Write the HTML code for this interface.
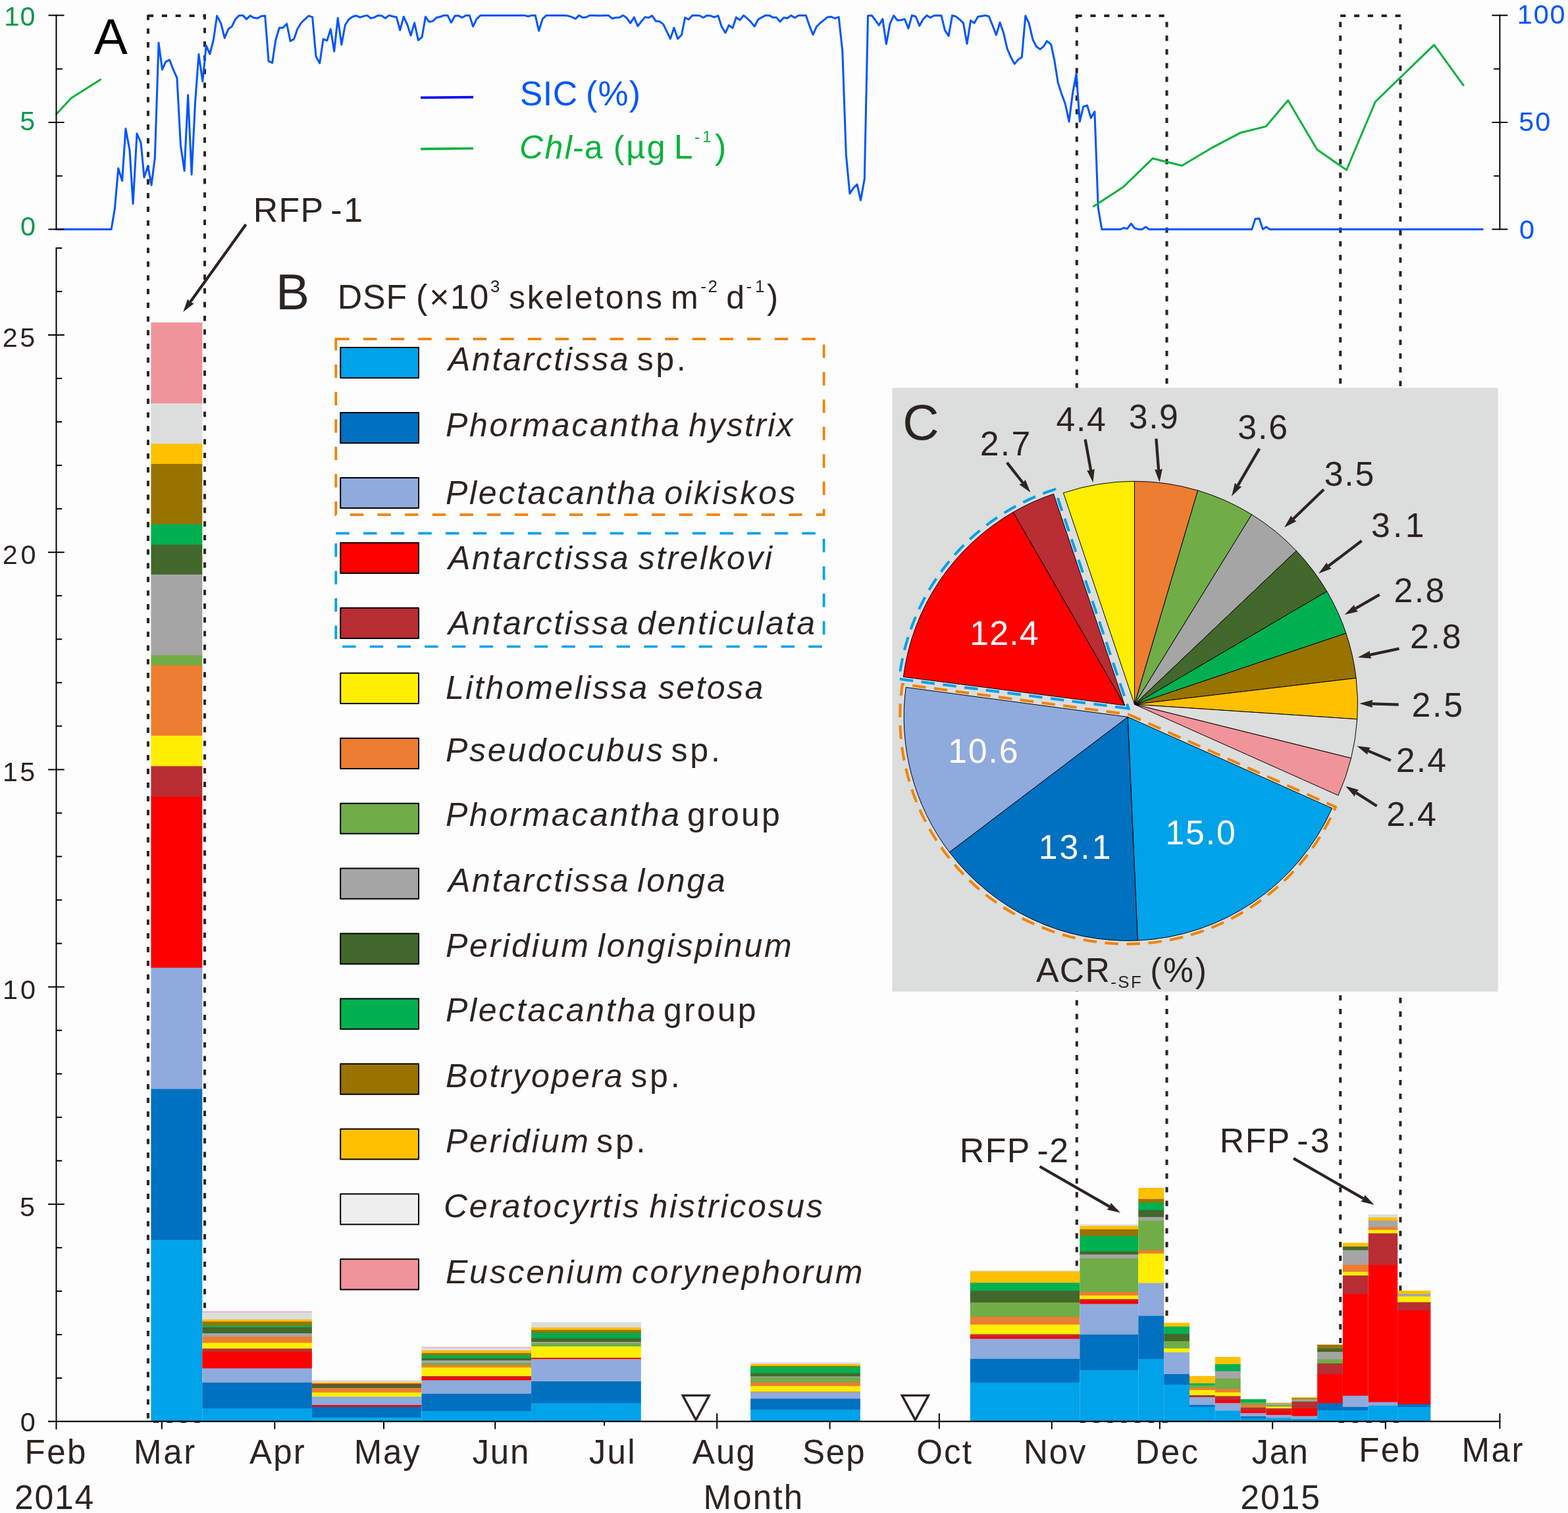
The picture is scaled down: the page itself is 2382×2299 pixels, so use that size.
<!DOCTYPE html>
<html><head><meta charset="utf-8"><title>Figure</title>
<style>html,body{margin:0;padding:0;background:#fdfdfd}svg{display:block}text{font-family:"Liberation Sans",sans-serif;white-space:pre}</style>
</head><body>
<svg xmlns="http://www.w3.org/2000/svg" width="2382" height="2299" viewBox="0 0 2382 2299">
<rect width="2382" height="2299" fill="#fdfdfd"/>
<line x1="224.95" y1="22.4" x2="224.95" y2="2158" stroke="#2c2421" stroke-width="4" stroke-dasharray="8.1 12.73" stroke-dashoffset="0"/>
<line x1="311" y1="21.4" x2="311" y2="2158" stroke="#2c2421" stroke-width="4" stroke-dasharray="8.1 12.73" stroke-dashoffset="0"/>
<line x1="225" y1="23.95" x2="313" y2="23.95" stroke="#2c2421" stroke-width="4" stroke-dasharray="8.1 12.73" stroke-dashoffset="0"/>
<line x1="232.9" y1="2160" x2="313" y2="2160" stroke="#2c2421" stroke-width="4" stroke-dasharray="8.1 12.73" stroke-dashoffset="0"/>
<line x1="1635.8" y1="22.1" x2="1635.8" y2="2158" stroke="#2c2421" stroke-width="4" stroke-dasharray="8.1 12.73" stroke-dashoffset="2.15"/>
<line x1="1772.5" y1="33.2" x2="1772.5" y2="2158" stroke="#2c2421" stroke-width="4" stroke-dasharray="8.1 12.73" stroke-dashoffset="0"/>
<line x1="1635.6" y1="24.1" x2="1771" y2="24.1" stroke="#2c2421" stroke-width="4" stroke-dasharray="8.1 12.73" stroke-dashoffset="0"/>
<line x1="1640.8" y1="2160" x2="1774.5" y2="2160" stroke="#2c2421" stroke-width="4" stroke-dasharray="8.1 12.73" stroke-dashoffset="0"/>
<line x1="2036.2" y1="33.2" x2="2036.2" y2="2158" stroke="#2c2421" stroke-width="4" stroke-dasharray="8.1 12.73" stroke-dashoffset="0"/>
<line x1="2127.4" y1="37.1" x2="2127.4" y2="2158" stroke="#2c2421" stroke-width="4" stroke-dasharray="8.1 12.73" stroke-dashoffset="0"/>
<line x1="2036.2" y1="24" x2="2129.5" y2="24" stroke="#2c2421" stroke-width="4" stroke-dasharray="8.1 12.73" stroke-dashoffset="0"/>
<line x1="2033.9" y1="2160" x2="2129.4" y2="2160" stroke="#2c2421" stroke-width="4" stroke-dasharray="8.1 12.73" stroke-dashoffset="0"/>
<rect x="229.4" y="490" width="77.9" height="123.7" fill="#f0949a"/>
<rect x="229.4" y="613" width="77.9" height="62" fill="#dcdddd"/>
<rect x="229.4" y="674.3" width="77.9" height="31.4" fill="#ffc000"/>
<rect x="229.4" y="705" width="77.9" height="92.3" fill="#997300"/>
<rect x="229.4" y="796.6" width="77.9" height="31.7" fill="#00b050"/>
<rect x="229.4" y="827.6" width="77.9" height="46" fill="#43682b"/>
<rect x="229.4" y="872.9" width="77.9" height="123.4" fill="#a5a5a5"/>
<rect x="229.4" y="995.6" width="77.9" height="16" fill="#70ad47"/>
<rect x="229.4" y="1010.9" width="77.9" height="107.7" fill="#ed7d31"/>
<rect x="229.4" y="1117.9" width="77.9" height="47" fill="#ffee00"/>
<rect x="229.4" y="1164.2" width="77.9" height="46.9" fill="#b92d34"/>
<rect x="229.4" y="1210.4" width="77.9" height="260.8" fill="#fe0000"/>
<rect x="229.4" y="1470.5" width="77.9" height="184.9" fill="#8faadc"/>
<rect x="229.4" y="1654.7" width="77.9" height="230.1" fill="#0070c0"/>
<rect x="229.4" y="1884.1" width="77.9" height="275.9" fill="#00a2e9"/>
<rect x="307.3" y="1992.7" width="166.6" height="1.9" fill="#f0949a"/>
<rect x="307.3" y="1993.9" width="166.6" height="11.7" fill="#dcdddd"/>
<rect x="307.3" y="2004.9" width="166.6" height="4" fill="#ffc000"/>
<rect x="307.3" y="2008.2" width="166.6" height="6.8" fill="#997300"/>
<rect x="307.3" y="2014.3" width="166.6" height="3.3" fill="#00b050"/>
<rect x="307.3" y="2016.9" width="166.6" height="9.7" fill="#43682b"/>
<rect x="307.3" y="2025.9" width="166.6" height="5.8" fill="#a5a5a5"/>
<rect x="307.3" y="2031" width="166.6" height="10.1" fill="#ed7d31"/>
<rect x="307.3" y="2040.4" width="166.6" height="9.5" fill="#ffee00"/>
<rect x="307.3" y="2049.2" width="166.6" height="6" fill="#b92d34"/>
<rect x="307.3" y="2054.5" width="166.6" height="25.4" fill="#fe0000"/>
<rect x="307.3" y="2079.2" width="166.6" height="22.3" fill="#8faadc"/>
<rect x="307.3" y="2100.8" width="166.6" height="39.9" fill="#0070c0"/>
<rect x="307.3" y="2140" width="166.6" height="20" fill="#00a2e9"/>
<rect x="473.9" y="2097.1" width="166.5" height="4" fill="#dcdddd"/>
<rect x="473.9" y="2100.4" width="166.5" height="2.7" fill="#ffc000"/>
<rect x="473.9" y="2102.4" width="166.5" height="2.6" fill="#b92d34"/>
<rect x="473.9" y="2104.3" width="166.5" height="5.4" fill="#43682b"/>
<rect x="473.9" y="2109" width="166.5" height="7.6" fill="#ed7d31"/>
<rect x="473.9" y="2115.9" width="166.5" height="7" fill="#ffee00"/>
<rect x="473.9" y="2122.2" width="166.5" height="13.4" fill="#8faadc"/>
<rect x="473.9" y="2134.9" width="166.5" height="3.4" fill="#fe0000"/>
<rect x="473.9" y="2137.6" width="166.5" height="17" fill="#0070c0"/>
<rect x="473.9" y="2153.9" width="166.5" height="6.1" fill="#00adef"/>
<rect x="640.4" y="2046.7" width="166.7" height="1.6" fill="#f0949a"/>
<rect x="640.4" y="2047.6" width="166.7" height="5.1" fill="#dcdddd"/>
<rect x="640.4" y="2052" width="166.7" height="4.6" fill="#ffc000"/>
<rect x="640.4" y="2055.9" width="166.7" height="4" fill="#997300"/>
<rect x="640.4" y="2059.2" width="166.7" height="5.2" fill="#00b050"/>
<rect x="640.4" y="2063.7" width="166.7" height="4.1" fill="#43682b"/>
<rect x="640.4" y="2067.1" width="166.7" height="4.4" fill="#a5a5a5"/>
<rect x="640.4" y="2070.8" width="166.7" height="3.8" fill="#70ad47"/>
<rect x="640.4" y="2073.9" width="166.7" height="4.6" fill="#ed7d31"/>
<rect x="640.4" y="2077.8" width="166.7" height="13.9" fill="#ffee00"/>
<rect x="640.4" y="2091" width="166.7" height="2.8" fill="#b92d34"/>
<rect x="640.4" y="2093.1" width="166.7" height="4.9" fill="#fe0000"/>
<rect x="640.4" y="2097.3" width="166.7" height="21.2" fill="#8faadc"/>
<rect x="640.4" y="2117.8" width="166.7" height="27" fill="#0070c0"/>
<rect x="640.4" y="2144.1" width="166.7" height="15.9" fill="#00a2e9"/>
<rect x="807.1" y="2009" width="166.7" height="8.8" fill="#dcdddd"/>
<rect x="807.1" y="2017.1" width="166.7" height="4.4" fill="#ffc000"/>
<rect x="807.1" y="2020.8" width="166.7" height="5.2" fill="#997300"/>
<rect x="807.1" y="2025.3" width="166.7" height="8.5" fill="#00b050"/>
<rect x="807.1" y="2033.1" width="166.7" height="6.6" fill="#43682b"/>
<rect x="807.1" y="2039" width="166.7" height="2.7" fill="#a5a5a5"/>
<rect x="807.1" y="2041" width="166.7" height="5.6" fill="#70ad47"/>
<rect x="807.1" y="2045.9" width="166.7" height="17.9" fill="#ffee00"/>
<rect x="807.1" y="2063.1" width="166.7" height="2.7" fill="#fe0000"/>
<rect x="807.1" y="2065.1" width="166.7" height="34.6" fill="#8faadc"/>
<rect x="807.1" y="2099" width="166.7" height="33.7" fill="#0070c0"/>
<rect x="807.1" y="2132" width="166.7" height="28" fill="#00a2e9"/>
<rect x="1140.1" y="2070.2" width="166.8" height="3.2" fill="#dcdddd"/>
<rect x="1140.1" y="2072.7" width="166.8" height="3.6" fill="#ffc000"/>
<rect x="1140.1" y="2075.6" width="166.8" height="2.2" fill="#997300"/>
<rect x="1140.1" y="2077.1" width="166.8" height="10.2" fill="#00b050"/>
<rect x="1140.1" y="2086.6" width="166.8" height="5.6" fill="#43682b"/>
<rect x="1140.1" y="2091.5" width="166.8" height="2.2" fill="#a5a5a5"/>
<rect x="1140.1" y="2093" width="166.8" height="8.5" fill="#70ad47"/>
<rect x="1140.1" y="2100.8" width="166.8" height="6.1" fill="#ed7d31"/>
<rect x="1140.1" y="2106.2" width="166.8" height="9" fill="#ffee00"/>
<rect x="1140.1" y="2114.5" width="166.8" height="1.7" fill="#ed7d31"/>
<rect x="1140.1" y="2115.5" width="166.8" height="10.5" fill="#8faadc"/>
<rect x="1140.1" y="2125.3" width="166.8" height="17.1" fill="#0070c0"/>
<rect x="1140.1" y="2141.7" width="166.8" height="18.3" fill="#00a2e9"/>
<rect x="1473.8" y="1930.5" width="166.5" height="2" fill="#dcdddd"/>
<rect x="1473.8" y="1931.8" width="166.5" height="18" fill="#ffc000"/>
<rect x="1473.8" y="1949.1" width="166.5" height="13" fill="#00b050"/>
<rect x="1473.8" y="1961.4" width="166.5" height="18.5" fill="#43682b"/>
<rect x="1473.8" y="1979.2" width="166.5" height="22.6" fill="#70ad47"/>
<rect x="1473.8" y="2001.1" width="166.5" height="12.2" fill="#ed7d31"/>
<rect x="1473.8" y="2012.6" width="166.5" height="15.5" fill="#ffee00"/>
<rect x="1473.8" y="2027.4" width="166.5" height="4.3" fill="#b92d34"/>
<rect x="1473.8" y="2031" width="166.5" height="4" fill="#fe0000"/>
<rect x="1473.8" y="2034.3" width="166.5" height="31.2" fill="#8faadc"/>
<rect x="1473.8" y="2064.8" width="166.5" height="36.6" fill="#0070c0"/>
<rect x="1473.8" y="2100.7" width="166.5" height="59.3" fill="#00a2e9"/>
<rect x="1640.3" y="1860.3" width="89" height="3.3" fill="#dcdddd"/>
<rect x="1640.3" y="1862.9" width="89" height="5.7" fill="#ffc000"/>
<rect x="1640.3" y="1867.9" width="89" height="10.7" fill="#997300"/>
<rect x="1640.3" y="1877.9" width="89" height="24.4" fill="#00b050"/>
<rect x="1640.3" y="1901.6" width="89" height="5.3" fill="#43682b"/>
<rect x="1640.3" y="1906.2" width="89" height="6.4" fill="#a5a5a5"/>
<rect x="1640.3" y="1911.9" width="89" height="51.9" fill="#70ad47"/>
<rect x="1640.3" y="1963.1" width="89" height="6.2" fill="#ed7d31"/>
<rect x="1640.3" y="1968.6" width="89" height="6" fill="#ffee00"/>
<rect x="1640.3" y="1973.9" width="89" height="3.4" fill="#b92d34"/>
<rect x="1640.3" y="1976.6" width="89" height="5.4" fill="#fe0000"/>
<rect x="1640.3" y="1981.3" width="89" height="47.2" fill="#8faadc"/>
<rect x="1640.3" y="2027.8" width="89" height="54.8" fill="#0070c0"/>
<rect x="1640.3" y="2081.9" width="89" height="78.1" fill="#00a2e9"/>
<rect x="1729.3" y="1804.9" width="38.9" height="17.7" fill="#ffc000"/>
<rect x="1729.3" y="1821.9" width="38.9" height="6.2" fill="#997300"/>
<rect x="1729.3" y="1827.4" width="38.9" height="11.9" fill="#00b050"/>
<rect x="1729.3" y="1838.6" width="38.9" height="11.4" fill="#43682b"/>
<rect x="1729.3" y="1849.3" width="38.9" height="6.2" fill="#a5a5a5"/>
<rect x="1729.3" y="1854.8" width="38.9" height="45.4" fill="#70ad47"/>
<rect x="1729.3" y="1899.5" width="38.9" height="5.9" fill="#ed7d31"/>
<rect x="1729.3" y="1904.7" width="38.9" height="45.6" fill="#ffee00"/>
<rect x="1729.3" y="1949.6" width="38.9" height="50.6" fill="#8faadc"/>
<rect x="1729.3" y="1999.5" width="38.9" height="66.2" fill="#0070c0"/>
<rect x="1729.3" y="2065" width="38.9" height="95" fill="#00a2e9"/>
<rect x="1768.2" y="2010" width="38.8" height="6.4" fill="#ffc000"/>
<rect x="1768.2" y="2015.7" width="38.8" height="11.9" fill="#00b050"/>
<rect x="1768.2" y="2026.9" width="38.8" height="11.7" fill="#43682b"/>
<rect x="1768.2" y="2037.9" width="38.8" height="11.7" fill="#70ad47"/>
<rect x="1768.2" y="2048.9" width="38.8" height="6.6" fill="#ffee00"/>
<rect x="1768.2" y="2054.8" width="38.8" height="33.9" fill="#8faadc"/>
<rect x="1768.2" y="2088" width="38.8" height="16.6" fill="#0070c0"/>
<rect x="1768.2" y="2103.9" width="38.8" height="56.1" fill="#00a2e9"/>
<rect x="1807" y="2090.8" width="38.8" height="11.9" fill="#ffc000"/>
<rect x="1807" y="2102" width="38.8" height="3.9" fill="#00b050"/>
<rect x="1807" y="2105.2" width="38.8" height="4.3" fill="#70ad47"/>
<rect x="1807" y="2108.8" width="38.8" height="4.2" fill="#ed7d31"/>
<rect x="1807" y="2112.3" width="38.8" height="8.4" fill="#ffee00"/>
<rect x="1807" y="2120" width="38.8" height="3.8" fill="#b92d34"/>
<rect x="1807" y="2123.1" width="38.8" height="12.4" fill="#8faadc"/>
<rect x="1807" y="2134.8" width="38.8" height="3.6" fill="#0070c0"/>
<rect x="1807" y="2137.7" width="38.8" height="22.3" fill="#00a2e9"/>
<rect x="1845.8" y="2061.8" width="38.8" height="11.7" fill="#ffc000"/>
<rect x="1845.8" y="2072.8" width="38.8" height="11.3" fill="#00b050"/>
<rect x="1845.8" y="2083.4" width="38.8" height="11.9" fill="#a5a5a5"/>
<rect x="1845.8" y="2094.6" width="38.8" height="16.5" fill="#70ad47"/>
<rect x="1845.8" y="2110.4" width="38.8" height="6" fill="#ed7d31"/>
<rect x="1845.8" y="2115.7" width="38.8" height="6.4" fill="#ffee00"/>
<rect x="1845.8" y="2121.4" width="38.8" height="6" fill="#b92d34"/>
<rect x="1845.8" y="2126.7" width="38.8" height="6" fill="#fe0000"/>
<rect x="1845.8" y="2132" width="38.8" height="12.3" fill="#8faadc"/>
<rect x="1845.8" y="2143.6" width="38.8" height="16.4" fill="#00a2e9"/>
<rect x="1884.6" y="2126.1" width="38.9" height="5.6" fill="#00b050"/>
<rect x="1884.6" y="2131" width="38.9" height="4.5" fill="#70ad47"/>
<rect x="1884.6" y="2134.8" width="38.9" height="4.7" fill="#ed7d31"/>
<rect x="1884.6" y="2138.8" width="38.9" height="5.1" fill="#b92d34"/>
<rect x="1884.6" y="2143.2" width="38.9" height="4.7" fill="#fe0000"/>
<rect x="1884.6" y="2147.2" width="38.9" height="5.6" fill="#8faadc"/>
<rect x="1884.6" y="2152.1" width="38.9" height="3.9" fill="#0070c0"/>
<rect x="1884.6" y="2155.3" width="38.9" height="4.7" fill="#00a2e9"/>
<rect x="1923.5" y="2131.2" width="38.8" height="1.7" fill="#ffc000"/>
<rect x="1923.5" y="2132.2" width="38.8" height="3.7" fill="#a5a5a5"/>
<rect x="1923.5" y="2135.2" width="38.8" height="2.8" fill="#70ad47"/>
<rect x="1923.5" y="2137.3" width="38.8" height="3.4" fill="#ffee00"/>
<rect x="1923.5" y="2140" width="38.8" height="3.9" fill="#b92d34"/>
<rect x="1923.5" y="2143.2" width="38.8" height="7.5" fill="#fe0000"/>
<rect x="1923.5" y="2150" width="38.8" height="5.3" fill="#8faadc"/>
<rect x="1923.5" y="2154.6" width="38.8" height="5.4" fill="#00a2e9"/>
<rect x="1962.3" y="2123.1" width="38.8" height="2.2" fill="#ffc000"/>
<rect x="1962.3" y="2124.6" width="38.8" height="2.2" fill="#997300"/>
<rect x="1962.3" y="2126.1" width="38.8" height="3.4" fill="#a5a5a5"/>
<rect x="1962.3" y="2128.8" width="38.8" height="1.8" fill="#70ad47"/>
<rect x="1962.3" y="2129.9" width="38.8" height="10.8" fill="#b92d34"/>
<rect x="1962.3" y="2140" width="38.8" height="12.4" fill="#fe0000"/>
<rect x="1962.3" y="2151.7" width="38.8" height="4.9" fill="#8faadc"/>
<rect x="1962.3" y="2155.9" width="38.8" height="4.1" fill="#00a2e9"/>
<rect x="2001.1" y="2043.2" width="38.8" height="6.6" fill="#997300"/>
<rect x="2001.1" y="2049.1" width="38.8" height="5.8" fill="#43682b"/>
<rect x="2001.1" y="2054.2" width="38.8" height="11.9" fill="#a5a5a5"/>
<rect x="2001.1" y="2065.4" width="38.8" height="7.1" fill="#70ad47"/>
<rect x="2001.1" y="2071.8" width="38.8" height="16.9" fill="#b92d34"/>
<rect x="2001.1" y="2088" width="38.8" height="44.9" fill="#fe0000"/>
<rect x="2001.1" y="2132.2" width="38.8" height="11.5" fill="#0070c0"/>
<rect x="2001.1" y="2143" width="38.8" height="17" fill="#00a2e9"/>
<rect x="2039.9" y="1888.5" width="38.8" height="6.4" fill="#ffc000"/>
<rect x="2039.9" y="1894.2" width="38.8" height="6" fill="#43682b"/>
<rect x="2039.9" y="1899.5" width="38.8" height="22.8" fill="#a5a5a5"/>
<rect x="2039.9" y="1921.6" width="38.8" height="11.7" fill="#ed7d31"/>
<rect x="2039.9" y="1932.6" width="38.8" height="6.2" fill="#ffee00"/>
<rect x="2039.9" y="1938.1" width="38.8" height="28.9" fill="#b92d34"/>
<rect x="2039.9" y="1966.3" width="38.8" height="155.2" fill="#fe0000"/>
<rect x="2039.9" y="2120.8" width="38.8" height="17.8" fill="#8faadc"/>
<rect x="2039.9" y="2137.9" width="38.8" height="5.8" fill="#0070c0"/>
<rect x="2039.9" y="2143" width="38.8" height="17" fill="#00a2e9"/>
<rect x="2078.7" y="1845.1" width="44.5" height="5.4" fill="#dcdddd"/>
<rect x="2078.7" y="1849.8" width="44.5" height="5.5" fill="#ffc000"/>
<rect x="2078.7" y="1854.6" width="44.5" height="10.7" fill="#a5a5a5"/>
<rect x="2078.7" y="1864.6" width="44.5" height="4.9" fill="#ed7d31"/>
<rect x="2078.7" y="1868.8" width="44.5" height="6" fill="#ffee00"/>
<rect x="2078.7" y="1874.1" width="44.5" height="48.7" fill="#b92d34"/>
<rect x="2078.7" y="1922.1" width="44.5" height="209.1" fill="#fe0000"/>
<rect x="2078.7" y="2130.5" width="44.5" height="6" fill="#8faadc"/>
<rect x="2078.7" y="2135.8" width="44.5" height="24.2" fill="#00a2e9"/>
<rect x="2123.2" y="1961.2" width="50.1" height="5.5" fill="#ffc000"/>
<rect x="2123.2" y="1966" width="50.1" height="4.6" fill="#a5a5a5"/>
<rect x="2123.2" y="1969.9" width="50.1" height="9.5" fill="#ffee00"/>
<rect x="2123.2" y="1978.7" width="50.1" height="13.4" fill="#b92d34"/>
<rect x="2123.2" y="1991.4" width="50.1" height="143" fill="#fe0000"/>
<rect x="2123.2" y="2133.7" width="50.1" height="4.9" fill="#0070c0"/>
<rect x="2123.2" y="2137.9" width="50.1" height="22.1" fill="#00a2e9"/>
<line x1="73" y1="2159.8" x2="2279.4" y2="2159.8" stroke="#000000" stroke-width="2.2"/>
<path d="M1037.1 2120.4L1077.3 2120.4L1057.2 2157.6Z" fill="none" stroke="#2c2421" stroke-width="3.4" stroke-linejoin="miter"/>
<path d="M1370.3 2120.4L1410.5 2120.4L1390.4 2157.6Z" fill="none" stroke="#2c2421" stroke-width="3.4" stroke-linejoin="miter"/>
<rect x="1355.4" y="589.3" width="920.2" height="917.4" fill="#dcdddd"/>
<path d="M85.6 348.4L169.1 348.4L174.4 317.1L179.7 255.8L185.6 274.8L190.9 195.6L197 228.3L202.1 309.7L208 203L214 216.7L219 269.6L224.7 252L230 281.2L235.3 240L241 65.1L246.5 105.7L251.6 94.1L257.5 90.9L263.2 105.7L268.9 118.4L274.4 220.9L280.1 259.6L285.6 144.4L291.1 265.3L296.6 154.3L301.9 82.5L307.8 123.7L313.2 69.3L318.8 82.1L324.3 60.7L329.6 24.1L335.7 35.7L341.2 57.7L346.8 44.3L352.3 40.2L357.5 29.5L363.2 23.6L369.1 23.4L374.5 29.1L380 23.8L385.7 27.1L391.2 27.7L396.8 24.5L402.7 24.1L408 92.9L413.6 95.5L418.8 60.7L424.3 42.3L429.8 42.3L435.7 36.2L441.1 62.5L446.6 59.3L452 43.8L457.7 34.5L463.4 29.1L468.9 24.1L474.6 25.9L480 85.7L485.7 95.9L491.1 59.5L496.8 61.6L502.3 44.3L507.7 78L513.2 27.3L518.8 67.9L524.3 38L529.8 29.5L535.4 25.5L541.1 23.8L547 26.4L552.3 24.6L557.7 23.4L563.2 27.7L568.8 26.4L574.5 23.4L580 24.1L585.4 27.7L591.1 23.4L596.8 25L602.3 25.9L607.7 45.9L613.2 25.5L618.8 37.5L624.1 53.9L629.6 34.8L635.4 61.1L641.1 56.3L646.4 25.5L652 33.4L657.5 32.1L663 26.8L668.8 25.5L674.3 23.4L680 23.4L685.4 34.3L691.1 24.1L696.6 23.8L702.3 26.8L707.9 23.4L713.2 23.4L718.6 40.2L724.3 28.6L730 23.4L797 23.4L802.3 25L807.7 23.4L813.2 23.4L818.6 46.8L824.3 28.6L830 23.4L857.7 23.4L863 24.1L868.8 25.9L874.3 28.6L879.6 23.4L885.4 26.8L890.9 25.9L896.4 23.4L902 23.4L907.7 23.8L913.2 23.8L918.8 23.4L924.3 23.4L930 28.2L935.5 26.8L941.1 26.4L946.6 23.4L952.1 27.3L957.7 35.2L963.2 26.2L968.8 39.6L974.3 32.7L980 25.9L985.4 27.1L990.7 23.8L996.4 32.1L1002 32.7L1007.5 36.6L1013 47.9L1018.4 58.9L1023.9 42.3L1029.6 58.9L1035.4 53.2L1040.7 26.8L1046.2 29.5L1051.8 23.4L1057.3 23.4L1062.9 23.8L1068.4 26.8L1074.3 23.4L1079.6 24.1L1085 26.2L1090.9 23.8L1096.2 40.2L1102 50L1107.3 38.4L1112.9 42.5L1118.4 26.4L1124.1 30.4L1129.6 23.4L1135.4 28.2L1140.7 33.4L1146.2 40.2L1151.8 29.5L1157.3 26.4L1163 23.4L1168.4 23.4L1173.9 26.4L1179.5 26.4L1185 33L1190.7 26.8L1196.2 27.7L1201.8 23.4L1207.3 27.1L1212.9 23.4L1218.4 23.6L1224.3 23.4L1229.6 38.9L1235 52.7L1240.7 40.2L1246.2 34.8L1251.8 30.4L1257.3 25.9L1263 25.5L1268.6 28L1274.2 25.9L1279.8 77.7L1285.3 234.9L1290.9 294.1L1296.4 285.8L1302 280.2L1307.5 304.3L1313.3 271.9L1318.5 24L1324.2 23.4L1329.7 30.5L1335.3 38.3L1340.8 28.7L1346.4 67.1L1351.9 36.4L1357.7 23.7L1363.2 30.9L1368.8 30.5L1374.3 29L1379.9 43.1L1385.4 23.4L1391.2 25.3L1396.7 39.2L1402.2 29.6L1407.8 23.4L1413.3 26.8L1418.9 23.7L1424.4 23.4L1430 23.7L1435.5 46.2L1441.1 54.6L1446.6 23.4L1452.4 25.3L1457.9 29.6L1463.5 35.1L1469 66.6L1474.6 31.1L1480.1 35.1L1485.7 25.3L1491.2 24.4L1496.8 23.4L1502.3 25L1507.9 38.8L1513.4 53.1L1519 34.2L1524.5 49.9L1530.1 74L1535.6 86.9L1541.2 97.1L1546.7 90.6L1552.3 86.9L1557.8 24L1563.4 36.1L1568.9 60.1L1574.5 70.8L1580 74.9L1585.6 70.3L1590.5 62.3L1596.6 67.3L1601.8 91.4L1607.2 125.6L1612.7 142.8L1618.3 158L1624 184.8L1629.6 141.3L1635.1 111.4L1640.3 184.8L1645.7 162.1L1651.6 160.2L1657.3 179.3L1662.9 169.5L1668.2 315.2L1673.8 348.4L1702.1 348.4L1707.1 346.3L1712.4 347.6L1718.2 339.8L1723.7 346.7L1729.3 348.4L1735 348.4L1740.4 344.8L1745.9 348.4L1901.9 348.4L1906.9 332.4L1913 331.9L1918.3 348.4L1923.7 344.8L1928.7 348.4L2252.3 348.4" fill="none" stroke="#0055ff" stroke-width="3" stroke-linejoin="round" stroke-linecap="round"/>
<path d="M85.6 173.4L108.2 149L152.6 120.9" fill="none" stroke="#09b23b" stroke-width="3" stroke-linejoin="round" stroke-linecap="round"/>
<path d="M1661.5 313.6L1706.6 284L1751.2 240.7L1795.5 251.8L1839.1 225.7L1884.2 201.8L1923.3 192.1L1956.6 152.5L2000.8 227.3L2045.5 258.3L2089.4 154.5L2178.6 68.1L2223.1 129.6" fill="none" stroke="#09b23b" stroke-width="3" stroke-linejoin="round" stroke-linecap="round"/>
<line x1="639.1" y1="148.3" x2="719" y2="147.6" stroke="#0808f2" stroke-width="3.7"/>
<line x1="639.1" y1="226.4" x2="719" y2="225.5" stroke="#09b23b" stroke-width="3.7"/>
<line x1="85.5" y1="22.3" x2="85.5" y2="349.4" stroke="#000000" stroke-width="2"/>
<line x1="73.5" y1="23.3" x2="97.5" y2="23.3" stroke="#000000" stroke-width="2"/>
<line x1="73.5" y1="186" x2="97.5" y2="186" stroke="#000000" stroke-width="2"/>
<line x1="73.5" y1="348.4" x2="97.5" y2="348.4" stroke="#000000" stroke-width="2"/>
<line x1="85.5" y1="104.7" x2="94.8" y2="104.7" stroke="#000000" stroke-width="2"/>
<line x1="85.5" y1="267.4" x2="94.8" y2="267.4" stroke="#000000" stroke-width="2"/>
<line x1="2278.4" y1="22.3" x2="2278.4" y2="349.4" stroke="#000000" stroke-width="2"/>
<line x1="2266.4" y1="23.3" x2="2290.4" y2="23.3" stroke="#000000" stroke-width="2"/>
<line x1="2266.4" y1="186" x2="2290.4" y2="186" stroke="#000000" stroke-width="2"/>
<line x1="2266.4" y1="348.4" x2="2290.4" y2="348.4" stroke="#000000" stroke-width="2"/>
<line x1="2269.1" y1="104.7" x2="2278.4" y2="104.7" stroke="#000000" stroke-width="2"/>
<line x1="2269.1" y1="267.4" x2="2278.4" y2="267.4" stroke="#000000" stroke-width="2"/>
<line x1="85.5" y1="375.92" x2="85.5" y2="2172" stroke="#000000" stroke-width="2"/>
<line x1="85.5" y1="2093.96" x2="94.2" y2="2093.96" stroke="#000000" stroke-width="2"/>
<line x1="85.5" y1="2027.92" x2="94.2" y2="2027.92" stroke="#000000" stroke-width="2"/>
<line x1="85.5" y1="1961.88" x2="94.2" y2="1961.88" stroke="#000000" stroke-width="2"/>
<line x1="85.5" y1="1895.84" x2="94.2" y2="1895.84" stroke="#000000" stroke-width="2"/>
<line x1="73" y1="1829.8" x2="97.8" y2="1829.8" stroke="#000000" stroke-width="2"/>
<line x1="85.5" y1="1763.76" x2="94.2" y2="1763.76" stroke="#000000" stroke-width="2"/>
<line x1="85.5" y1="1697.72" x2="94.2" y2="1697.72" stroke="#000000" stroke-width="2"/>
<line x1="85.5" y1="1631.68" x2="94.2" y2="1631.68" stroke="#000000" stroke-width="2"/>
<line x1="85.5" y1="1565.64" x2="94.2" y2="1565.64" stroke="#000000" stroke-width="2"/>
<line x1="73" y1="1499.6" x2="97.8" y2="1499.6" stroke="#000000" stroke-width="2"/>
<line x1="85.5" y1="1433.56" x2="94.2" y2="1433.56" stroke="#000000" stroke-width="2"/>
<line x1="85.5" y1="1367.52" x2="94.2" y2="1367.52" stroke="#000000" stroke-width="2"/>
<line x1="85.5" y1="1301.48" x2="94.2" y2="1301.48" stroke="#000000" stroke-width="2"/>
<line x1="85.5" y1="1235.44" x2="94.2" y2="1235.44" stroke="#000000" stroke-width="2"/>
<line x1="73" y1="1169.4" x2="97.8" y2="1169.4" stroke="#000000" stroke-width="2"/>
<line x1="85.5" y1="1103.36" x2="94.2" y2="1103.36" stroke="#000000" stroke-width="2"/>
<line x1="85.5" y1="1037.32" x2="94.2" y2="1037.32" stroke="#000000" stroke-width="2"/>
<line x1="85.5" y1="971.28" x2="94.2" y2="971.28" stroke="#000000" stroke-width="2"/>
<line x1="85.5" y1="905.24" x2="94.2" y2="905.24" stroke="#000000" stroke-width="2"/>
<line x1="73" y1="839.2" x2="97.8" y2="839.2" stroke="#000000" stroke-width="2"/>
<line x1="85.5" y1="773.16" x2="94.2" y2="773.16" stroke="#000000" stroke-width="2"/>
<line x1="85.5" y1="707.12" x2="94.2" y2="707.12" stroke="#000000" stroke-width="2"/>
<line x1="85.5" y1="641.08" x2="94.2" y2="641.08" stroke="#000000" stroke-width="2"/>
<line x1="85.5" y1="575.04" x2="94.2" y2="575.04" stroke="#000000" stroke-width="2"/>
<line x1="73" y1="509" x2="97.8" y2="509" stroke="#000000" stroke-width="2"/>
<line x1="85.5" y1="442.96" x2="94.2" y2="442.96" stroke="#000000" stroke-width="2"/>
<line x1="85.5" y1="376.92" x2="94.2" y2="376.92" stroke="#000000" stroke-width="2"/>
<line x1="245.8" y1="2160" x2="245.8" y2="2171.5" stroke="#000000" stroke-width="2"/>
<line x1="417.3" y1="2160" x2="417.3" y2="2171.5" stroke="#000000" stroke-width="2"/>
<line x1="583" y1="2160" x2="583" y2="2171.5" stroke="#000000" stroke-width="2"/>
<line x1="752.2" y1="2160" x2="752.2" y2="2171.5" stroke="#000000" stroke-width="2"/>
<line x1="918" y1="2160" x2="918" y2="2166.5" stroke="#000000" stroke-width="2"/>
<line x1="1089.2" y1="2147.5" x2="1089.2" y2="2171" stroke="#000000" stroke-width="2"/>
<line x1="1260.6" y1="2160" x2="1260.6" y2="2171.5" stroke="#000000" stroke-width="2"/>
<line x1="1426.8" y1="2147.5" x2="1426.8" y2="2171" stroke="#000000" stroke-width="2"/>
<line x1="1597.8" y1="2160" x2="1597.8" y2="2171.5" stroke="#000000" stroke-width="2"/>
<line x1="1761.8" y1="2160" x2="1761.8" y2="2171.5" stroke="#000000" stroke-width="2"/>
<line x1="1933.1" y1="2160" x2="1933.1" y2="2171.5" stroke="#000000" stroke-width="2"/>
<line x1="2104.8" y1="2160" x2="2104.8" y2="2171.5" stroke="#000000" stroke-width="2"/>
<line x1="2278.4" y1="2147.5" x2="2278.4" y2="2171" stroke="#000000" stroke-width="2"/>
<path d="M1723.5 1070.3L1723.5 731.3A339.0 339.0 0 0 1 1819.66 745.22Z" fill="#ed7d31" stroke="#000" stroke-width="1" stroke-linejoin="round"/>
<path d="M1723.5 1070.3L1819.66 745.22A339.0 339.0 0 0 1 1901.59 781.84Z" fill="#70ad47" stroke="#000" stroke-width="1" stroke-linejoin="round"/>
<path d="M1723.5 1070.3L1901.59 781.84A339.0 339.0 0 0 1 1969.32 836.86Z" fill="#a5a5a5" stroke="#000" stroke-width="1" stroke-linejoin="round"/>
<path d="M1723.5 1070.3L1969.32 836.86A339.0 339.0 0 0 1 2015.82 898.64Z" fill="#43682b" stroke="#000" stroke-width="1" stroke-linejoin="round"/>
<path d="M1723.5 1070.3L2015.82 898.64A339.0 339.0 0 0 1 2044.81 962.22Z" fill="#00b050" stroke="#000" stroke-width="1" stroke-linejoin="round"/>
<path d="M1723.5 1070.3L2044.81 962.22A339.0 339.0 0 0 1 2060.14 1030.39Z" fill="#997300" stroke="#000" stroke-width="1" stroke-linejoin="round"/>
<path d="M1723.5 1070.3L2060.14 1030.39A339.0 339.0 0 0 1 2061.75 1092.78Z" fill="#ffc000" stroke="#000" stroke-width="1" stroke-linejoin="round"/>
<path d="M1723.5 1070.3L2061.75 1092.78A339.0 339.0 0 0 1 2052.51 1151.99Z" fill="#dcdddd" stroke="#000" stroke-width="1" stroke-linejoin="round"/>
<path d="M1723.5 1070.3L2052.51 1151.99A339.0 339.0 0 0 1 2032.99 1208.64Z" fill="#f0949a" stroke="#000" stroke-width="1" stroke-linejoin="round"/>
<path d="M1713.2 1089.4L2023.6 1228.15A340.0 340.0 0 0 1 1728.24 1429.07Z" fill="#00a2e9" stroke="#000" stroke-width="1" stroke-linejoin="round"/>
<path d="M1713.2 1089.4L1728.24 1429.07A340.0 340.0 0 0 1 1442.32 1294.88Z" fill="#0070c0" stroke="#000" stroke-width="1" stroke-linejoin="round"/>
<path d="M1713.2 1089.4L1442.32 1294.88A340.0 340.0 0 0 1 1376.19 1044.4Z" fill="#8faadc" stroke="#000" stroke-width="1" stroke-linejoin="round"/>
<path d="M1708.6 1071.8L1372.37 1028.52A339.0 339.0 0 0 1 1539.1 778.22Z" fill="#fe0000" stroke="#000" stroke-width="1" stroke-linejoin="round"/>
<path d="M1708.6 1071.8L1539.1 778.22A339.0 339.0 0 0 1 1600.52 750.49Z" fill="#b92d34" stroke="#000" stroke-width="1" stroke-linejoin="round"/>
<path d="M1723.5 1070.3L1615.42 748.99A339.0 339.0 0 0 1 1723.5 731.3Z" fill="#ffee00" stroke="#000" stroke-width="1" stroke-linejoin="round"/>
<path d="M1714.3 1085.51L2028.94 1226.15A345 345 0 0 1 1370.81 1039.65Z" fill="none" stroke="#f08300" stroke-width="4" stroke-dasharray="20.5 12.5"/>
<path d="M1714.43 1076.58L1365.94 1031.72A345 345 0 0 1 1602.41 743.55Z" fill="none" stroke="#00a0e9" stroke-width="4" stroke-dasharray="20.5 12.5"/>
<text x="1488.8" y="692.3" font-size="51.75" fill="#2c2421" letter-spacing="2.28">2.7</text>
<text x="1604.61" y="654.5" font-size="51.75" fill="#2c2421" letter-spacing="1.58">4.4</text>
<text x="1714.83" y="650.5" font-size="51.75" fill="#2c2421" letter-spacing="1.54">3.9</text>
<text x="1880.33" y="666.5" font-size="51.75" fill="#2c2421" letter-spacing="1.85">3.6</text>
<text x="2011.73" y="737.8" font-size="51.75" fill="#2c2421" letter-spacing="1.75">3.5</text>
<text x="2083.03" y="815.7" font-size="51.75" fill="#2c2421" letter-spacing="4.31">3.1</text>
<text x="2117.6" y="914.8" font-size="51.75" fill="#2c2421" letter-spacing="2.36">2.8</text>
<text x="2141.9" y="984.8" font-size="51.75" fill="#2c2421" letter-spacing="2.81">2.8</text>
<text x="2144.5" y="1089" font-size="51.75" fill="#2c2421" letter-spacing="2.77">2.5</text>
<text x="2120.7" y="1173.3" font-size="51.75" fill="#2c2421" letter-spacing="2.19">2.4</text>
<text x="2106.2" y="1255.2" font-size="51.75" fill="#2c2421" letter-spacing="1.79">2.4</text>
<text x="1473.23" y="979.8" font-size="51.75" fill="#ffffff" letter-spacing="1.19">12.4</text>
<text x="1440.13" y="1159.3" font-size="51.75" fill="#ffffff" letter-spacing="1.87">10.6</text>
<text x="1577.63" y="1305.4" font-size="51.75" fill="#ffffff" letter-spacing="3.08">13.1</text>
<text x="1770.43" y="1283" font-size="51.75" fill="#ffffff" letter-spacing="1.89">15.0</text>
<line x1="1529.7" y1="702.9" x2="1553.96" y2="733.76" stroke="#2c2421" stroke-width="4.3"/>
<path d="M1565.4 748.3L1548.4 736.23L1553.96 733.76L1557.68 728.93Z" fill="#2c2421"/>
<line x1="1648.6" y1="667.7" x2="1657.2" y2="715.1" stroke="#2c2421" stroke-width="4.3"/>
<path d="M1660.5 733.3L1651.12 714.67L1657.2 715.1L1662.74 712.57Z" fill="#2c2421"/>
<line x1="1756.4" y1="666.7" x2="1760.08" y2="714.35" stroke="#2c2421" stroke-width="4.3"/>
<path d="M1761.5 732.8L1754.08 713.31L1760.08 714.35L1765.84 712.41Z" fill="#2c2421"/>
<line x1="1913.2" y1="681.7" x2="1880.34" y2="737.93" stroke="#2c2421" stroke-width="4.3"/>
<path d="M1871 753.9L1876 733.66L1880.34 737.93L1886.19 739.61Z" fill="#2c2421"/>
<line x1="2011" y1="743.8" x2="1964.33" y2="788.68" stroke="#2c2421" stroke-width="4.3"/>
<path d="M1951 801.5L1961.33 783.38L1964.33 788.68L1969.51 791.89Z" fill="#2c2421"/>
<line x1="2068.6" y1="821.8" x2="2017.84" y2="860.32" stroke="#2c2421" stroke-width="4.3"/>
<path d="M2003.1 871.5L2015.47 854.71L2017.84 860.32L2022.6 864.11Z" fill="#2c2421"/>
<line x1="2095.6" y1="903.7" x2="2058.74" y2="924.88" stroke="#2c2421" stroke-width="4.3"/>
<path d="M2042.7 934.1L2057.1 919.02L2058.74 924.88L2062.98 929.25Z" fill="#2c2421"/>
<line x1="2125.5" y1="985.7" x2="2080.71" y2="995.1" stroke="#2c2421" stroke-width="4.3"/>
<path d="M2062.6 998.9L2080.96 989.02L2080.71 995.1L2083.39 1000.57Z" fill="#2c2421"/>
<line x1="2124.7" y1="1070.6" x2="2083.69" y2="1069.43" stroke="#2c2421" stroke-width="4.3"/>
<path d="M2065.2 1068.9L2085.36 1063.57L2083.69 1069.43L2085.02 1075.37Z" fill="#2c2421"/>
<line x1="2112.8" y1="1155.6" x2="2078.22" y2="1140.86" stroke="#2c2421" stroke-width="4.3"/>
<path d="M2061.2 1133.6L2081.91 1136.02L2078.22 1140.86L2077.28 1146.87Z" fill="#2c2421"/>
<line x1="2091.6" y1="1224.8" x2="2059.68" y2="1204.37" stroke="#2c2421" stroke-width="4.3"/>
<path d="M2044.1 1194.4L2064.13 1200.21L2059.68 1204.37L2057.77 1210.15Z" fill="#2c2421"/>
<text x="1371.21" y="668.3" font-size="76.59" fill="#2c2421" letter-spacing="0">C</text>
<text><tspan x="1574" y="1491.7" font-size="51.75" fill="#2c2421" letter-spacing="1.32">ACR</tspan><tspan x="1687.15" y="1501" font-size="25.87" fill="#2c2421" letter-spacing="2.45">-SF</tspan> <tspan x="1747.19" y="1491.7" font-size="51.75" fill="#2c2421" letter-spacing="2.62">(%)</tspan></text>
<text x="6.13" y="39" font-size="41.4" fill="#0a9a4a" letter-spacing="1.24">10</text>
<text x="30.34" y="198.4" font-size="41.4" fill="#0a9a4a" letter-spacing="0">5</text>
<text x="30.88" y="358" font-size="41.4" fill="#0a9a4a" letter-spacing="0">0</text>
<text x="2304.83" y="35.9" font-size="41.4" fill="#0055ff" letter-spacing="1.86">100</text>
<text x="2307.14" y="198.8" font-size="41.4" fill="#0055ff" letter-spacing="2.13">50</text>
<text x="2307.88" y="363.2" font-size="41.4" fill="#0055ff" letter-spacing="0">0</text>
<text x="142.85" y="82" font-size="76.59" fill="#000000" letter-spacing="0">A</text>
<text><tspan x="789.75" y="159.8" font-size="51.75" fill="#0055ff" letter-spacing="0.53">SIC</tspan> <tspan x="889.89" y="159.8" font-size="51.75" fill="#0055ff" letter-spacing="1.37">(%)</tspan></text>
<text><tspan x="789.04" y="241.4" font-size="50" fill="#09b23b" font-style="italic" letter-spacing="2.41">Chl</tspan><tspan x="870.08" y="241.4" font-size="50" fill="#09b23b" letter-spacing="0.96">-a</tspan> <tspan x="931.8" y="241.4" font-size="50" fill="#09b23b" letter-spacing="2.73">(µg</tspan> <tspan x="1023.75" y="241.4" font-size="51.75" fill="#09b23b" letter-spacing="0">L</tspan><tspan x="1054.9" y="216.2" font-size="24.84" fill="#09b23b" letter-spacing="3.89">-1</tspan><tspan x="1086.1" y="241.4" font-size="51.75" fill="#09b23b" letter-spacing="0">)</tspan></text>
<text><tspan x="384.65" y="336.8" font-size="51.75" fill="#2c2421" letter-spacing="1.49">RFP</tspan> <tspan x="502.2" y="336.8" font-size="51.75" fill="#2c2421" letter-spacing="0">-</tspan><tspan x="522.33" y="336.8" font-size="51.75" fill="#2c2421" letter-spacing="0">1</tspan></text>
<line x1="373.6" y1="341.1" x2="288.98" y2="459.07" stroke="#2c2421" stroke-width="4.3"/>
<path d="M278.2 474.1L285.06 454.41L288.98 459.07L294.65 461.29Z" fill="#2c2421"/>
<text x="3.72" y="526.8" font-size="41.4" fill="#2c2421" letter-spacing="3.47">25</text>
<text x="3.72" y="856.6" font-size="41.4" fill="#2c2421" letter-spacing="4.75">20</text>
<text x="3.93" y="1187" font-size="41.4" fill="#2c2421" letter-spacing="3.26">15</text>
<text x="3.93" y="1517.6" font-size="41.4" fill="#2c2421" letter-spacing="3.94">10</text>
<text x="30.04" y="1847.6" font-size="41.4" fill="#2c2421" letter-spacing="0">5</text>
<text x="30.68" y="2175.3" font-size="41.4" fill="#2c2421" letter-spacing="0">0</text>
<text x="419.12" y="469.8" font-size="76.59" fill="#2c2421" letter-spacing="0">B</text>
<text><tspan x="512.75" y="469.2" font-size="51.75" fill="#2c2421" letter-spacing="0.96">DSF</tspan> <tspan x="631.99" y="469.2" font-size="51.75" fill="#2c2421" letter-spacing="0">(</tspan><tspan x="652.31" y="469.2" font-size="51.75" fill="#2c2421" letter-spacing="0">×</tspan><tspan x="683.93" y="469.2" font-size="51.75" fill="#2c2421" letter-spacing="0.73">10</tspan><tspan x="745.11" y="443.7" font-size="25.87" fill="#2c2421" letter-spacing="0">3</tspan> <tspan x="772.91" y="469.2" font-size="50" fill="#2c2421" letter-spacing="2.72">skeletons</tspan> <tspan x="1019.08" y="469.2" font-size="50" fill="#2c2421" letter-spacing="0">m</tspan><tspan x="1064.15" y="443.7" font-size="25.87" fill="#2c2421" letter-spacing="2.74">-2</tspan> <tspan x="1103.2" y="469.2" font-size="50" fill="#2c2421" letter-spacing="0">d</tspan><tspan x="1133.55" y="443.7" font-size="25.87" fill="#2c2421" letter-spacing="4.94">-1</tspan><tspan x="1165" y="469.2" font-size="51.75" fill="#2c2421" letter-spacing="0">)</tspan></text>
<rect x="510.3" y="515.2" width="741.3" height="267" fill="none" stroke="#f08300" stroke-width="3.7" stroke-dasharray="20.5 21.15"/>
<rect x="510.3" y="810.4" width="741.3" height="172.1" fill="none" stroke="#00a0e9" stroke-width="3.7" stroke-dasharray="20.5 21.15"/>
<rect x="517.2" y="528" width="118.8" height="46.2" fill="#00a2e9" stroke="#000" stroke-width="2" stroke-linejoin="round"/>
<text><tspan x="680.97" y="563.3" font-size="50" fill="#2c2421" font-style="italic" letter-spacing="2.63">Antarctissa</tspan> <tspan x="967.71" y="563.3" font-size="50" fill="#2c2421" letter-spacing="3.63">sp.</tspan></text>
<rect x="517.2" y="626.95" width="118.8" height="46.2" fill="#0070c0" stroke="#000" stroke-width="2" stroke-linejoin="round"/>
<text><tspan x="676.96" y="662.6" font-size="50" fill="#2c2421" font-style="italic" letter-spacing="2.72">Phormacantha</tspan> <tspan x="1046.37" y="662.6" font-size="50" fill="#2c2421" font-style="italic" letter-spacing="2.3">hystrix</tspan></text>
<rect x="517.2" y="725.9" width="118.8" height="46.2" fill="#8faadc" stroke="#000" stroke-width="2" stroke-linejoin="round"/>
<text><tspan x="676.96" y="766" font-size="50" fill="#2c2421" font-style="italic" letter-spacing="2.7">Plectacantha</tspan> <tspan x="1009.16" y="766" font-size="50" fill="#2c2421" font-style="italic" letter-spacing="3.02">oikiskos</tspan></text>
<rect x="517.2" y="824.85" width="118.8" height="46.2" fill="#fe0000" stroke="#000" stroke-width="2" stroke-linejoin="round"/>
<text><tspan x="680.97" y="864.6" font-size="50" fill="#2c2421" font-style="italic" letter-spacing="2.63">Antarctissa</tspan> <tspan x="969.68" y="864.6" font-size="50" fill="#2c2421" font-style="italic" letter-spacing="2.49">strelkovi</tspan></text>
<rect x="517.2" y="923.8" width="118.8" height="46.2" fill="#b92d34" stroke="#000" stroke-width="2" stroke-linejoin="round"/>
<text><tspan x="680.97" y="964" font-size="50" fill="#2c2421" font-style="italic" letter-spacing="2.63">Antarctissa</tspan> <tspan x="968.12" y="964" font-size="50" fill="#2c2421" font-style="italic" letter-spacing="2.81">denticulata</tspan></text>
<rect x="517.2" y="1022.75" width="118.8" height="46.2" fill="#ffee00" stroke="#000" stroke-width="2" stroke-linejoin="round"/>
<text><tspan x="676.96" y="1062.3" font-size="50" fill="#2c2421" font-style="italic" letter-spacing="2.58">Lithomelissa</tspan> <tspan x="999.88" y="1062.3" font-size="50" fill="#2c2421" font-style="italic" letter-spacing="2.42">setosa</tspan></text>
<rect x="517.2" y="1121.7" width="118.8" height="46.2" fill="#ed7d31" stroke="#000" stroke-width="2" stroke-linejoin="round"/>
<text><tspan x="676.96" y="1156.6" font-size="50" fill="#2c2421" font-style="italic" letter-spacing="2.69">Pseudocubus</tspan> <tspan x="1019.51" y="1156.6" font-size="50" fill="#2c2421" letter-spacing="3.83">sp.</tspan></text>
<rect x="517.2" y="1220.65" width="118.8" height="46.2" fill="#70ad47" stroke="#000" stroke-width="2" stroke-linejoin="round"/>
<text><tspan x="676.96" y="1255.2" font-size="50" fill="#2c2421" font-style="italic" letter-spacing="2.72">Phormacantha</tspan> <tspan x="1044.1" y="1255.2" font-size="50" fill="#2c2421" letter-spacing="3.18">group</tspan></text>
<rect x="517.2" y="1319.6" width="118.8" height="46.2" fill="#a5a5a5" stroke="#000" stroke-width="2" stroke-linejoin="round"/>
<text><tspan x="680.97" y="1354.5" font-size="50" fill="#2c2421" font-style="italic" letter-spacing="2.63">Antarctissa</tspan> <tspan x="968.29" y="1354.5" font-size="50" fill="#2c2421" font-style="italic" letter-spacing="2.79">longa</tspan></text>
<rect x="517.2" y="1418.55" width="118.8" height="46.2" fill="#43682b" stroke="#000" stroke-width="2" stroke-linejoin="round"/>
<text><tspan x="676.96" y="1453.5" font-size="50" fill="#2c2421" font-style="italic" letter-spacing="2.81">Peridium</tspan> <tspan x="907.69" y="1453.5" font-size="50" fill="#2c2421" font-style="italic" letter-spacing="2.82">longispinum</tspan></text>
<rect x="517.2" y="1517.5" width="118.8" height="46.2" fill="#00b050" stroke="#000" stroke-width="2" stroke-linejoin="round"/>
<text><tspan x="676.96" y="1552.2" font-size="50" fill="#2c2421" font-style="italic" letter-spacing="2.7">Plectacantha</tspan> <tspan x="1008.1" y="1552.2" font-size="50" fill="#2c2421" letter-spacing="3.15">group</tspan></text>
<rect x="517.2" y="1616.45" width="118.8" height="46.2" fill="#997300" stroke="#000" stroke-width="2" stroke-linejoin="round"/>
<text><tspan x="676.96" y="1651.5" font-size="50" fill="#2c2421" font-style="italic" letter-spacing="2.66">Botryopera</tspan> <tspan x="958.31" y="1651.5" font-size="50" fill="#2c2421" letter-spacing="3.78">sp.</tspan></text>
<rect x="517.2" y="1715.4" width="118.8" height="46.2" fill="#ffc000" stroke="#000" stroke-width="2" stroke-linejoin="round"/>
<text><tspan x="676.96" y="1750.8" font-size="50" fill="#2c2421" font-style="italic" letter-spacing="2.81">Peridium</tspan> <tspan x="906.11" y="1750.8" font-size="50" fill="#2c2421" letter-spacing="3.78">sp.</tspan></text>
<rect x="517.2" y="1814.35" width="118.8" height="46.2" fill="#eeeeee" stroke="#000" stroke-width="2" stroke-linejoin="round"/>
<text><tspan x="674.04" y="1850.2" font-size="50" fill="#2c2421" font-style="italic" letter-spacing="2.73">Ceratocyrtis</tspan> <tspan x="986.47" y="1850.2" font-size="50" fill="#2c2421" font-style="italic" letter-spacing="2.7">histricosus</tspan></text>
<rect x="517.2" y="1913.3" width="118.8" height="46.2" fill="#f0949a" stroke="#000" stroke-width="2" stroke-linejoin="round"/>
<text><tspan x="676.96" y="1949.5" font-size="50" fill="#2c2421" font-style="italic" letter-spacing="2.81">Euscenium</tspan> <tspan x="959.66" y="1949.5" font-size="50" fill="#2c2421" font-style="italic" letter-spacing="2.83">corynephorum</tspan></text>
<text x="37.62" y="2223.6" font-size="51" fill="#2c2421" letter-spacing="2.42">Feb</text>
<text x="202.92" y="2223.6" font-size="51" fill="#2c2421" letter-spacing="2.8">Mar</text>
<text x="378.9" y="2223.6" font-size="51" fill="#2c2421" letter-spacing="2.29">Apr</text>
<text x="537.82" y="2223.6" font-size="51" fill="#2c2421" letter-spacing="1.77">May</text>
<text x="717.6" y="2223.6" font-size="51" fill="#2c2421" letter-spacing="1.74">Jun</text>
<text x="894.7" y="2223.6" font-size="51" fill="#2c2421" letter-spacing="2.36">Jul</text>
<text x="1051.7" y="2223.6" font-size="51" fill="#2c2421" letter-spacing="2.27">Aug</text>
<text x="1218.88" y="2223.6" font-size="51" fill="#2c2421" letter-spacing="1.96">Sep</text>
<text x="1392.28" y="2223.6" font-size="51" fill="#2c2421" letter-spacing="2.13">Oct</text>
<text x="1555.02" y="2223.6" font-size="51" fill="#2c2421" letter-spacing="1.93">Nov</text>
<text x="1724.42" y="2223.6" font-size="51" fill="#2c2421" letter-spacing="2.47">Dec</text>
<text x="1901.6" y="2223.6" font-size="51" fill="#2c2421" letter-spacing="1.54">Jan</text>
<text x="2064.22" y="2221" font-size="51" fill="#2c2421" letter-spacing="2.32">Feb</text>
<text x="2220.42" y="2221" font-size="51" fill="#2c2421" letter-spacing="2.6">Mar</text>
<text x="21.9" y="2292.6" font-size="51.75" fill="#2c2421" letter-spacing="1.77">2014</text>
<text x="1068.52" y="2292.8" font-size="51" fill="#2c2421" letter-spacing="2.24">Month</text>
<text x="1884.3" y="2292.5" font-size="51.75" fill="#2c2421" letter-spacing="1.88">2015</text>
<text><tspan x="1457.85" y="1765.9" font-size="51.75" fill="#2c2421" letter-spacing="1.49">RFP</tspan> <tspan x="1575.4" y="1765.9" font-size="51.75" fill="#2c2421" letter-spacing="0">-</tspan><tspan x="1594.2" y="1765.9" font-size="51.75" fill="#2c2421" letter-spacing="0">2</tspan></text>
<line x1="1579.5" y1="1772.5" x2="1685.95" y2="1833.59" stroke="#2c2421" stroke-width="4.3"/>
<path d="M1702 1842.8L1681.72 1837.96L1685.95 1833.59L1687.59 1827.73Z" fill="#2c2421"/>
<text><tspan x="1852.75" y="1750.9" font-size="51.75" fill="#2c2421" letter-spacing="1.54">RFP</tspan> <tspan x="1970.2" y="1750.9" font-size="51.75" fill="#2c2421" letter-spacing="0">-</tspan><tspan x="1990.73" y="1750.9" font-size="51.75" fill="#2c2421" letter-spacing="0">3</tspan></text>
<line x1="1965" y1="1760.2" x2="2071.56" y2="1821.48" stroke="#2c2421" stroke-width="4.3"/>
<path d="M2087.6 1830.7L2067.32 1825.84L2071.56 1821.48L2073.2 1815.62Z" fill="#2c2421"/>
</svg>
</body></html>
